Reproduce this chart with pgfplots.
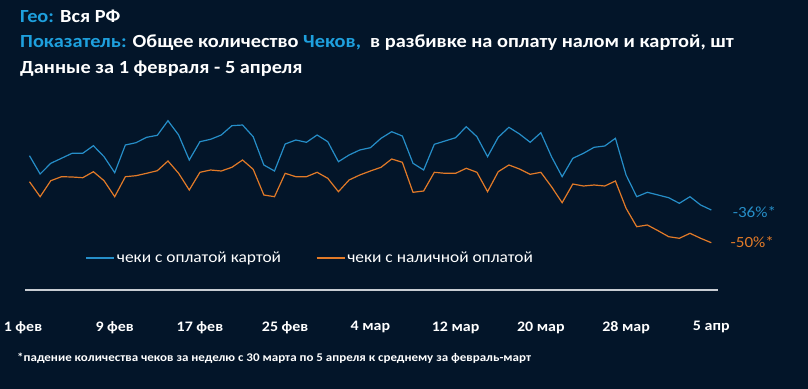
\documentclass[border=0pt]{standalone}
\usepackage{pgfplots}
\pgfplotsset{compat=1.18}
\usepackage{fontspec}
\setmainfont[FakeStretch=1.1]{Carlito}
\definecolor{bg}{RGB}{3,21,41}
\definecolor{cardblue}{RGB}{38,142,200}
\definecolor{titleblue}{RGB}{30,160,222}
\definecolor{cashorange}{RGB}{226,122,40}
\definecolor{axisgray}{RGB}{200,204,210}
\begin{document}
\begin{tikzpicture}
\fill[bg] (0,0) rectangle (808bp,389bp);
\node[anchor=base west,inner sep=0pt,text=white,font=\bfseries\fontsize{18.5bp}{21bp}\selectfont] at (20bp,366bp) {\textcolor{titleblue}{Гео:} Вся РФ};
\node[anchor=base west,inner sep=0pt,text=white,font=\bfseries\fontsize{18.5bp}{21bp}\selectfont] at (20bp,341bp) {\textcolor{titleblue}{Показатель:} Общее количество \textcolor{titleblue}{Чеков,}\ \ в разбивке на оплату налом и картой, шт};
\node[anchor=base west,inner sep=0pt,text=white,font=\bfseries\fontsize{18.5bp}{21bp}\selectfont] at (20bp,315bp) {Данные за 1 февраля - 5 апреля};
\node[anchor=base west,inner sep=0pt,text=white,font=\bfseries\fontsize{11.8bp}{14bp}\selectfont] at (17bp,28bp) {*падение количества чеков за неделю с 30 марта по 5 апреля к среднему за февраль-март};
\begin{axis}[
  at={(25bp,99bp)}, anchor=south west,
  scale only axis, width=693bp, height=181bp,
  xmin=-0.42, xmax=64.63, ymin=99, ymax=280,
  axis x line*=bottom, axis y line=none,
  x axis line style={axisgray, line width=1.1bp, -},
  xtick={0,8,16,24,32,40,48,56,64},
  xticklabels={\hspace*{-13bp}1 фев,9 фев,17 фев,25 фев,4 мар,12 мар,20 мар,28 мар,5 апр},
  major tick length=0pt,
  xticklabel style={text=white, font=\bfseries\fontsize{14.5bp}{16bp}\selectfont, yshift=-28bp},
  clip=false,
  legend columns=2,
  legend style={at={(axis description cs:0.083,0.177)}, anchor=west, draw=none, fill=none,
    text=white, font=\fontsize{15.8bp}{18bp}\selectfont,
    /tikz/every even column/.append style={column sep=33bp}},
  legend image code/.code={\draw[#1] (0bp,0bp) -- (28bp,0bp);},
]
\addplot[cardblue, line width=1.2bp] coordinates {
(0,233.3)(1,215)(2,225.7)(3,230.7)(4,235.7)(5,235.7)(6,243.3)(7,232.3)(8,216.3)(9,244)
(10,246.3)(11,251.7)(12,253.7)(13,268.3)(14,254)(15,229)(16,247.3)(17,249.7)(18,254)(19,263.3)
(20,264)(21,252.3)(22,224)(23,218)(24,245)(25,249)(26,246.7)(27,254)(28,247.3)(29,227.3)
(30,234)(31,239)(32,241.3)(33,250.7)(34,257.3)(35,253)(36,225.7)(37,219)(38,244.7)(39,248)
(40,251.3)(41,262.3)(42,252.3)(43,232.3)(44,251.7)(45,261.7)(46,255)(47,246.7)(48,256.3)(49,232.3)
(50,212.3)(51,230.7)(52,235.7)(53,241.7)(54,243)(55,250.7)(56,214)(57,192.3)(58,196.7)(59,194)
(60,191.3)(61,185.7)(62,192.3)(63,184)(64,179)};
\addlegendentry{чеки с оплатой картой}
\addplot[cashorange, line width=1.2bp] coordinates {
(0,207.3)(1,192.3)(2,208.3)(3,212.3)(4,212)(5,211.3)(6,217.3)(7,208.3)(8,192.3)(9,212.3)
(10,213.3)(11,215.7)(12,218.3)(13,228)(14,215.7)(15,199)(16,216.7)(17,219)(18,218)(19,221.7)
(20,229)(21,219.7)(22,194)(23,192.3)(24,215.7)(25,212.3)(26,212.3)(27,216.7)(28,210.7)(29,197.3)
(30,209)(31,214)(32,218)(33,221.7)(34,230)(35,226.7)(36,196.7)(37,198)(38,216.7)(39,215.7)
(40,215.7)(41,220.7)(42,216.7)(43,197.3)(44,217.3)(45,224)(46,220)(47,214.7)(48,216.7)(49,202.3)
(50,186.3)(51,205)(52,203)(53,204)(54,203)(55,208)(56,180.7)(57,162.3)(58,164)(59,158.3)
(60,152.3)(61,150.7)(62,155.7)(63,150.7)(64,146.3)};
\addlegendentry{чеки с наличной оплатой}
\node[anchor=west, inner sep=0pt, text=cardblue, font=\fontsize{15.5bp}{18bp}\selectfont] at (axis cs:66,177) {-36\%*};
\node[anchor=west, inner sep=0pt, text=cashorange, font=\fontsize{15.5bp}{18bp}\selectfont] at (axis cs:65.8,147) {-50\%*};
\end{axis}
\pgfresetboundingbox
\path (0,0) rectangle (808bp,389bp);
\end{tikzpicture}
\end{document}
